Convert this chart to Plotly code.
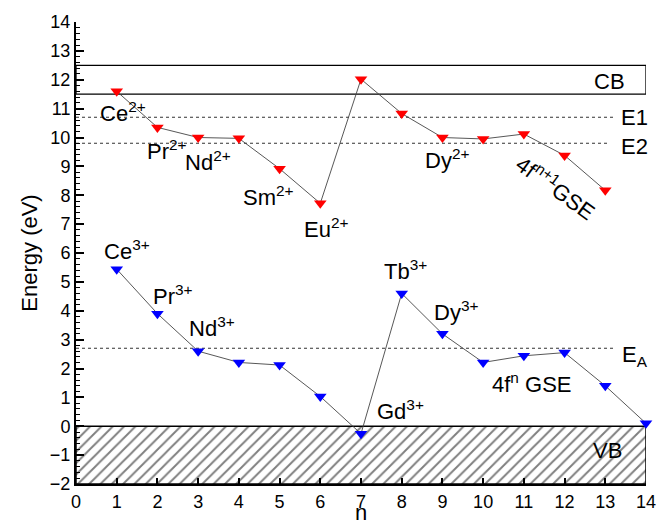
import plotly.graph_objects as go

n_vals = list(range(1, 15))
n_red = list(range(1, 14))
e_red = [11.6, 10.35, 10.0, 9.97, 8.92, 7.72, 12.02, 10.83, 10.0, 9.95, 10.12, 9.38, 8.17]
e_blue = [5.44, 3.9, 2.6, 2.21, 2.12, 1.03, -0.26, 4.6, 3.2, 2.21, 2.44, 2.55, 1.4, 0.1]

levels = {"E1": 10.7, "E2": 9.8, "EA": 2.7}
cb = (11.5, 12.5)
vb = (-2.0, 0.0)

labels_red = [
    ("Ce<sup>2+</sup>", 1.15, 10.9),
    ("Pr<sup>2+</sup>", 2.23, 9.55),
    ("Nd<sup>2+</sup>", 3.24, 9.2),
    ("Sm<sup>2+</sup>", 4.74, 7.97),
    ("Eu<sup>2+</sup>", 6.14, 6.85),
    ("Dy<sup>2+</sup>", 9.1, 9.25),
]
labels_blue = [
    ("Ce<sup>3+</sup>", 1.26, 6.1),
    ("Pr<sup>3+</sup>", 2.39, 4.54),
    ("Nd<sup>3+</sup>", 3.35, 3.43),
    ("Gd<sup>3+</sup>", 7.96, 0.56),
    ("Tb<sup>3+</sup>", 8.1, 5.4),
    ("Dy<sup>3+</sup>", 9.34, 3.99),
    ("4f<sup>n</sup> GSE", 11.2, 1.5),
]

FONT = "Liberation Sans, Arial, sans-serif"
fig = go.Figure()

# VB hatched box
fig.add_trace(go.Scatter(
    x=[0, 14, 14, 0, 0], y=[vb[0], vb[0], vb[1], vb[1], vb[0]],
    mode="lines", fill="toself", fillcolor="white",
    fillpattern=dict(shape="/", fgcolor="black", bgcolor="white", size=8, solidity=0.24),
    line=dict(color="black", width=1.5), hoverinfo="skip", showlegend=False,
))

fig.add_trace(go.Scatter(
    x=n_red, y=e_red, mode="lines+markers",
    line=dict(color="#444444", width=0.9),
    marker=dict(symbol="triangle-down", size=11, color="red"),
    cliponaxis=False, showlegend=False,
))
fig.add_trace(go.Scatter(
    x=n_vals, y=e_blue, mode="lines+markers",
    line=dict(color="#444444", width=0.9),
    marker=dict(symbol="triangle-down", size=11, color="blue"),
    cliponaxis=False, showlegend=False,
))

# CB box
fig.add_shape(type="rect", x0=0, x1=14, y0=cb[0], y1=cb[1],
              line=dict(color="black", width=1.3), fillcolor="rgba(0,0,0,0)", layer="below")
# dotted levels
fig.add_shape(type="line", x0=0, x1=13.2, y0=levels["E1"], y1=levels["E1"],
              line=dict(color="#333333", width=1.1, dash="dot"), layer="below")
fig.add_shape(type="line", x0=0, x1=13.05, y0=levels["E2"], y1=levels["E2"],
              line=dict(color="#333333", width=1.1, dash="dot"), layer="below")
fig.add_shape(type="line", x0=0, x1=13.2, y0=levels["EA"], y1=levels["EA"],
              line=dict(color="#333333", width=1.1, dash="dot"), layer="below")

def ann(text, x, y, size=22, angle=0):
    fig.add_annotation(x=x, y=y, text=text, showarrow=False,
                       font=dict(family=FONT, size=size, color="black"),
                       textangle=angle, xanchor="center", yanchor="middle")

for t, x, y in labels_red + labels_blue:
    ann(t, x, y)

ann("4f<sup>n+1</sup>GSE", 11.8, 8.3, angle=36)
ann("CB", 13.1, 11.95)
ann("E1", 13.72, 10.7)
ann("E2", 13.72, 9.68)
ann("E<sub>A</sub>", 13.72, 2.45)
ann("VB", 13.05, -0.85)

# x-axis title placed as paper annotation near the bottom edge
fig.add_annotation(x=0.5, y=-0.093, xref="paper", yref="paper", text="n", showarrow=False,
                   font=dict(family=FONT, size=22, color="black"),
                   xanchor="center", yanchor="bottom")

fig.update_xaxes(
    range=[0, 14], tickmode="array", tickvals=list(range(0, 15)),
    ticks="inside", ticklen=6, tickwidth=1.5, tickcolor="black",
    showline=True, linewidth=2, linecolor="black", mirror=False,
    showgrid=False, zeroline=False, automargin=False,
    tickfont=dict(family=FONT, size=18, color="black"),
)
fig.update_yaxes(
    range=[-2, 14], tickmode="linear", tick0=0, dtick=1,
    ticks="inside", ticklen=8, tickwidth=1.5, tickcolor="black",
    minor=dict(ticks="inside", ticklen=4, tickwidth=1, tickcolor="black", dtick=0.2, showgrid=False),
    showline=True, linewidth=2, linecolor="black", mirror=False,
    showgrid=False, zeroline=False, automargin=False,
    tickfont=dict(family=FONT, size=18, color="black"),
    title=dict(text="Energy (eV)", font=dict(family=FONT, size=22, color="black"), standoff=6),
)
fig.update_layout(
    width=664, height=527,
    margin=dict(l=76, r=18, t=22, b=43),
    paper_bgcolor="white", plot_bgcolor="white",
    showlegend=False,
)
fig.write_html("out.html")
